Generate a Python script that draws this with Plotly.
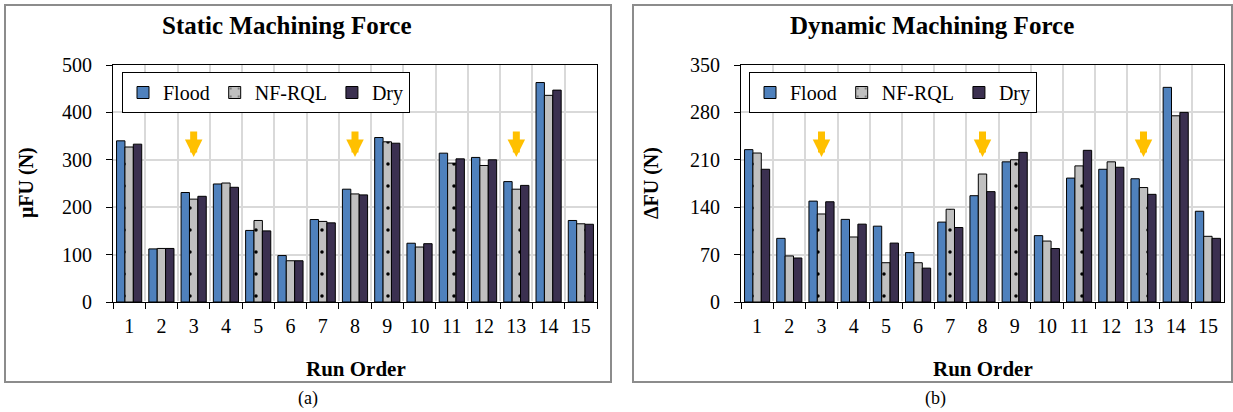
import plotly.graph_objects as go

W, H = 1233, 412

runs = [str(i) for i in range(1, 16)]
series_names = ["Flood", "NF-RQL", "Dry"]

static_flood = [340, 112, 231, 249, 151, 98, 174, 238, 347, 124, 314, 305, 254, 463, 172]
static_nfrql = [327, 113, 217, 251, 172, 87, 170, 228, 338, 116, 293, 288, 238, 436, 165]
static_dry = [333, 113, 223, 242, 150, 87, 167, 226, 335, 123, 302, 300, 246, 447, 164]

dynamic_flood = [225, 94, 149, 122, 112, 73, 118, 157, 207, 98, 183, 196, 182, 317, 134]
dynamic_nfrql = [220, 68, 130, 96, 58, 58, 137, 189, 210, 90, 201, 207, 169, 275, 97]
dynamic_dry = [196, 65, 148, 115, 87, 50, 110, 163, 221, 79, 224, 199, 159, 280, 94]

arrow_runs = ["3", "8", "13"]

colors = {"Flood": "#4F81BD", "NF-RQL": "#C0C0C0", "Dry": "#3B3050"}
FONT = "Liberation Serif, Times New Roman, Times, DejaVu Serif, serif"


def px(x):
    return x / W


def py(y):
    return 1 - y / H


fig = go.Figure()

panels = [
    dict(xa="x", ya="y", leg="legend", data=[static_flood, static_nfrql, static_dry]),
    dict(xa="x2", ya="y2", leg="legend2", data=[dynamic_flood, dynamic_nfrql, dynamic_dry]),
]

for p in panels:
    for name, vals in zip(series_names, p["data"]):
        marker = dict(color=colors[name], line=dict(color="black", width=1))
        if name == "NF-RQL":
            marker["pattern"] = dict(shape=".", fgcolor="black", bgcolor=colors[name],
                                     size=22, solidity=0.02, fillmode="replace")
        fig.add_trace(go.Bar(x=runs, y=vals, name=name, marker=marker,
                             xaxis=p["xa"], yaxis=p["ya"], legend=p["leg"]))

axis_common = dict(
    showline=True, linecolor="black", linewidth=1, mirror=True,
    showgrid=True, gridcolor="#D9D9D9", gridwidth=1.5,
    ticks="outside", ticklen=6, tickcolor="black", tickwidth=1,
    tickfont=dict(family=FONT, size=20, color="black"),
    automargin=False,
)

legend_common = dict(orientation="h", xanchor="left", yanchor="top",
                     bordercolor="black", borderwidth=1, bgcolor="white",
                     font=dict(family=FONT, size=20, color="black"), itemwidth=30,
                     tracegroupgap=0)

fig.update_layout(
    width=W, height=H,
    margin=dict(l=0, r=0, t=0, b=0, autoexpand=False),
    paper_bgcolor="white", plot_bgcolor="white",
    barmode="group", bargap=0.22, bargroupgap=0,
    font=dict(family=FONT, color="black"),
    xaxis=dict(domain=[px(113), px(597)], anchor="y", tickson="boundaries",
               ticklabelstandoff=6, **axis_common),
    yaxis=dict(domain=[py(302), py(65)], anchor="x", range=[0, 500], dtick=100,
               ticklabelstandoff=10, **axis_common),
    xaxis2=dict(domain=[px(741), px(1224)], anchor="y2", tickson="boundaries",
                ticklabelstandoff=6, **axis_common),
    yaxis2=dict(domain=[py(302), py(65)], anchor="x2", range=[0, 350], dtick=70,
                ticklabelstandoff=10, **axis_common),
    legend=dict(x=px(122), y=py(72), **legend_common),
    legend2=dict(x=px(749), y=py(72), **legend_common),
    showlegend=True,
)

shapes = [
    dict(type="rect", xref="paper", yref="paper", x0=px(5), x1=px(611), y0=py(382), y1=py(5),
         line=dict(color="#8C8C8C", width=2), layer="below"),
    dict(type="rect", xref="paper", yref="paper", x0=px(633), x1=px(1232), y0=py(382), y1=py(5),
         line=dict(color="#8C8C8C", width=2), layer="below"),
]
fig.update_layout(shapes=shapes)


def label(text, x, y, size, angle=0):
    return dict(text=text, x=px(x), y=py(y), xref="paper", yref="paper",
                xanchor="center", yanchor="middle", textangle=angle,
                showarrow=False, font=dict(family=FONT, size=size, color="black"))


ann = [
    label("<b>Static Machining Force</b>", 287, 26, 25),
    label("<b>Dynamic Machining Force</b>", 932, 26, 25),
    label("<b>μFU (N)</b>", 26, 183, 20, -90),
    label("<b>ΔFU (N)</b>", 651, 183, 20, -90),
    label("<b>Run Order</b>", 356, 369, 21),
    label("<b>Run Order</b>", 983, 369, 21),
    label("(a)", 308, 398, 18),
    label("(b)", 935, 398, 18),
]
# arrows
for r in arrow_runs:
    idx = runs.index(r)
    ann.append(dict(text="", x=idx, y=306, xref="x", yref="y", ax=0, ay=-27,
                    showarrow=True, arrowhead=2, arrowsize=0.5, arrowwidth=7, arrowcolor="#FFC000"))
    ann.append(dict(text="", x=idx, y=214, xref="x2", yref="y2", ax=0, ay=-27,
                    showarrow=True, arrowhead=2, arrowsize=0.5, arrowwidth=7, arrowcolor="#FFC000"))
fig.update_layout(annotations=ann)

fig.write_html("out.html")
